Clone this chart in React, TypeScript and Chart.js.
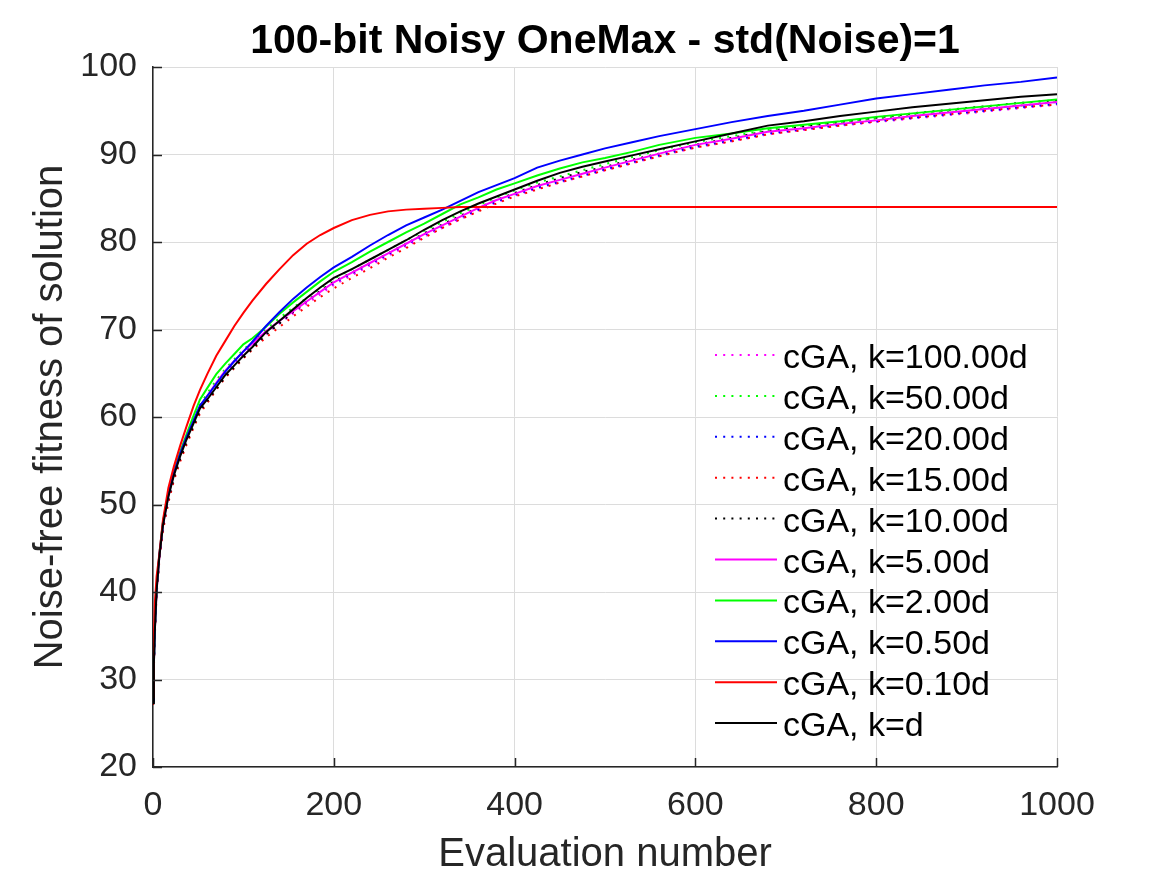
import React, { useEffect, useRef } from "react";
import { Chart, registerables } from "chart.js";

Chart.register(...registerables);

// ---- Data ----
const EVALS = [
  0, 1, 2, 4, 7, 11, 17, 23, 30, 37, 45, 52, 60, 70, 80, 90, 100, 110, 125, 140, 155, 170, 185, 200,
  220, 240, 260, 280, 300, 320, 340, 360, 380, 400, 425, 450, 475, 500, 530, 560, 600, 640, 680, 720,
  760, 800, 840, 880, 920, 960, 1000,
];

const K_100D = [
  27.2, 31.6, 35.3, 40.0, 43.8, 47.4, 50.7, 53.2, 55.4, 57.3, 59.2, 60.9, 62.1, 63.6, 65.0, 66.1, 67.2,
  68.1, 69.5, 70.7, 71.8, 72.9, 74.0, 75.1, 76.2, 77.3, 78.4, 79.5, 80.6, 81.6, 82.6, 83.6, 84.5, 85.3,
  86.1, 86.8, 87.5, 88.2, 89.0, 89.8, 90.8, 91.5, 92.3, 92.8, 93.3, 93.7, 94.1, 94.5, 94.9, 95.3, 95.7,
];
const K_50D = [
  27.4, 31.9, 35.6, 40.3, 44.1, 47.8, 51.1, 53.6, 55.8, 57.7, 59.7, 61.4, 62.7, 64.2, 65.5, 66.6, 67.7,
  68.6, 70.0, 71.3, 72.5, 73.6, 74.7, 75.8, 76.9, 78.0, 79.1, 80.2, 81.3, 82.3, 83.3, 84.2, 85.1, 85.9,
  86.8, 87.5, 88.2, 88.9, 89.7, 90.5, 91.4, 92.1, 92.8, 93.3, 93.7, 94.1, 94.5, 94.9, 95.3, 95.6, 96.0,
];
const K_20D = [
  27.3, 31.7, 35.4, 40.1, 43.9, 47.6, 50.9, 53.4, 55.6, 57.5, 59.4, 61.1, 62.3, 63.8, 65.2, 66.3, 67.4,
  68.3, 69.7, 70.9, 72.1, 73.2, 74.3, 75.3, 76.4, 77.5, 78.6, 79.7, 80.8, 81.8, 82.8, 83.7, 84.6, 85.4,
  86.2, 86.9, 87.6, 88.3, 89.1, 89.9, 90.9, 91.6, 92.4, 92.9, 93.4, 93.8, 94.2, 94.6, 95.0, 95.4, 95.8,
];
const K_15D = [
  27.1, 31.4, 35.0, 39.7, 43.5, 47.0, 50.2, 52.7, 54.9, 56.8, 58.8, 60.4, 61.6, 63.1, 64.5, 65.6, 66.7,
  67.7, 69.1, 70.3, 71.5, 72.6, 73.7, 74.7, 75.9, 77.0, 78.2, 79.3, 80.5, 81.6, 82.6, 83.5, 84.4, 85.2,
  86.0, 86.8, 87.5, 88.2, 89.0, 89.8, 90.8, 91.5, 92.3, 92.8, 93.3, 93.8, 94.2, 94.6, 95.0, 95.4, 95.7,
];
const K_10D = [
  27.2, 31.6, 35.3, 40.0, 43.8, 47.4, 50.6, 53.0, 55.2, 57.1, 59.0, 60.7, 61.8, 63.2, 64.6, 65.7, 66.8,
  67.8, 69.4, 70.7, 72.0, 73.2, 74.4, 75.5, 76.5, 77.6, 78.7, 79.8, 81.0, 82.0, 83.0, 83.9, 84.8, 85.6,
  86.5, 87.3, 88.0, 88.6, 89.4, 90.1, 91.1, 91.9, 92.7, 93.2, 93.7, 94.2, 94.7, 95.1, 95.5, 95.9, 96.2,
];
const K_5D = [
  27.4, 31.9, 35.5, 40.2, 44.0, 47.7, 51.0, 53.5, 55.7, 57.6, 59.5, 61.2, 62.4, 63.9, 65.3, 66.4, 67.5,
  68.4, 69.8, 71.0, 72.1, 73.2, 74.3, 75.4, 76.5, 77.6, 78.7, 79.8, 80.9, 81.9, 82.9, 83.9, 84.8, 85.5,
  86.4, 87.1, 87.8, 88.5, 89.3, 90.1, 91.1, 91.8, 92.6, 93.0, 93.5, 93.9, 94.4, 94.8, 95.2, 95.6, 96.0,
];
const K_2D = [
  27.5, 32.0, 35.7, 40.5, 44.3, 48.0, 51.3, 53.8, 56.0, 58.0, 60.2, 62.0, 63.3, 64.9, 66.1, 67.2, 68.3,
  69.0, 70.3, 71.8, 73.1, 74.3, 75.5, 76.6, 77.7, 78.9, 80.0, 81.1, 82.1, 83.2, 84.3, 85.1, 86.0, 86.7,
  87.6, 88.4, 89.1, 89.6, 90.3, 91.1, 91.9, 92.4, 93.0, 93.4, 93.8, 94.3, 94.7, 95.1, 95.5, 95.9, 96.3,
];
const K_050D = [
  27.6, 32.2, 35.8, 40.5, 44.3, 47.9, 51.2, 53.6, 55.8, 57.7, 59.6, 61.3, 62.4, 63.8, 65.2, 66.4, 67.5,
  68.6, 70.4, 72.0, 73.5, 74.8, 76.0, 77.1, 78.3, 79.6, 80.8, 81.9, 82.8, 83.7, 84.7, 85.7, 86.5, 87.3,
  88.5, 89.3, 90.0, 90.7, 91.4, 92.1, 92.9, 93.7, 94.4, 95.0, 95.7, 96.4, 96.9, 97.4, 97.9, 98.3, 98.8,
];
const K_010D = [
  28.0, 35.0, 38.7, 41.8, 44.3, 48.2, 51.9, 54.3, 56.7, 58.9, 61.3, 63.1, 64.9, 67.0, 68.7, 70.4, 71.9,
  73.3, 75.2, 76.9, 78.5, 79.8, 80.8, 81.6, 82.5, 83.1, 83.5, 83.7, 83.8, 83.9, 84.0, 84.0, 84.0, 84.0,
  84.0, 84.0, 84.0, 84.0, 84.0, 84.0, 84.0, 84.0, 84.0, 84.0, 84.0, 84.0, 84.0, 84.0, 84.0, 84.0, 84.0,
];
const K_D = [
  27.3, 31.8, 35.5, 40.2, 44.0, 47.6, 50.9, 53.3, 55.5, 57.4, 59.3, 61.0, 62.0, 63.4, 64.8, 65.9, 67.0,
  68.0, 69.7, 71.0, 72.3, 73.6, 74.8, 75.9, 76.9, 78.0, 79.1, 80.2, 81.4, 82.5, 83.5, 84.4, 85.2, 86.0,
  87.0, 87.9, 88.6, 89.2, 89.9, 90.6, 91.5, 92.4, 93.3, 93.8, 94.4, 94.9, 95.4, 95.8, 96.2, 96.6, 96.9,
];

const SERIES_LABELS = [
  "cGA, k=100.00d",
  "cGA, k=50.00d",
  "cGA, k=20.00d",
  "cGA, k=15.00d",
  "cGA, k=10.00d",
  "cGA, k=5.00d",
  "cGA, k=2.00d",
  "cGA, k=0.50d",
  "cGA, k=0.10d",
  "cGA, k=d",
];
const SERIES_VALUES = [K_100D, K_50D, K_20D, K_15D, K_10D, K_5D, K_2D, K_050D, K_010D, K_D];
const SERIES_COLORS = [
  "#ff00ff", "#00ff00", "#0000ff", "#ff0000", "#000000",
  "#ff00ff", "#00ff00", "#0000ff", "#ff0000", "#000000",
];
const SERIES_DOTTED = [true, true, true, true, true, false, false, false, false, false];

const X_TICKS = [0, 200, 400, 600, 800, 1000];
const Y_TICKS = [20, 30, 40, 50, 60, 70, 80, 90, 100];

const TITLE = "100-bit Noisy OneMax - std(Noise)=1";
const X_LABEL = "Evaluation number";
const Y_LABEL = "Noise-free fitness of solution";

const FONT = "'Liberation Sans', Arial, Helvetica, sans-serif";
const AXIS_COLOR = "#262626";
const DOT_DASH = [2, 6.2];

const decorPlugin = {
  id: "matlabDecor",
  afterDraw(chart: any) {
    const ctx = chart.ctx as CanvasRenderingContext2D;
    const area = chart.chartArea;
    const xs = chart.scales.x;
    const ys = chart.scales.y;
    ctx.save();

    // inward tick marks
    ctx.strokeStyle = AXIS_COLOR;
    ctx.lineWidth = 1.5;
    ctx.setLineDash([]);
    ctx.beginPath();
    X_TICKS.forEach((v) => {
      const px = Math.round(xs.getPixelForValue(v)) + 0.5;
      ctx.moveTo(px, area.bottom);
      ctx.lineTo(px, area.bottom - 9);
    });
    Y_TICKS.forEach((v) => {
      const py = Math.round(ys.getPixelForValue(v)) + 0.5;
      ctx.moveTo(area.left, py);
      ctx.lineTo(area.left + 9, py);
    });
    ctx.stroke();

    // title
    const cx = (area.left + area.right) / 2;
    ctx.fillStyle = "#000";
    ctx.font = `bold 41px ${FONT}`;
    ctx.textAlign = "center";
    ctx.textBaseline = "alphabetic";
    ctx.fillText(TITLE, cx, 53);

    // axis titles
    ctx.fillStyle = AXIS_COLOR;
    ctx.font = `40px ${FONT}`;
    ctx.fillText(X_LABEL, cx, 866);
    ctx.save();
    ctx.translate(62, (area.top + area.bottom) / 2);
    ctx.rotate(-Math.PI / 2);
    ctx.fillText(Y_LABEL, 0, 0);
    ctx.restore();

    // legend
    const rowTop = 355;
    const rowStep = 40.9;
    ctx.font = `34px ${FONT}`;
    ctx.textAlign = "left";
    chart.data.datasets.forEach((ds: any, i: number) => {
      const y = rowTop + i * rowStep;
      ctx.strokeStyle = ds.borderColor;
      ctx.lineWidth = 2;
      ctx.setLineDash(ds.borderDash || []);
      ctx.beginPath();
      ctx.moveTo(715, y);
      ctx.lineTo(777, y);
      ctx.stroke();
      ctx.setLineDash([]);
      ctx.fillStyle = "#000";
      ctx.fillText(ds.label, 783, y + 13);
    });

    ctx.restore();
  },
};

export default function App() {
  const ref = useRef<HTMLCanvasElement | null>(null);

  useEffect(() => {
    document.body.style.margin = "0";
    if (!ref.current) return;
    const n = SERIES_LABELS.length;
    const chart = new Chart(ref.current, {
      type: "line",
      data: {
        datasets: SERIES_LABELS.map((label, i) => ({
          label,
          data: EVALS.map((x, j) => ({ x, y: SERIES_VALUES[i][j] })),
          borderColor: SERIES_COLORS[i],
          backgroundColor: SERIES_COLORS[i],
          borderWidth: 2,
          borderDash: SERIES_DOTTED[i] ? DOT_DASH : [],
          pointRadius: 0,
          tension: 0,
          fill: false,
          order: n - 1 - i,
        })),
      },
      options: {
        responsive: false,
        animation: false,
        layout: { padding: { top: 67, right: 110, left: 0, bottom: 0 } },
        plugins: {
          legend: { display: false },
          title: { display: false },
          tooltip: { enabled: false },
        },
        scales: {
          x: {
            type: "linear",
            min: 0,
            max: 1000,
            afterFit: (s: any) => {
              s.height = 108;
            },
            afterBuildTicks: (s: any) => {
              s.ticks = X_TICKS.map((v) => ({ value: v }));
            },
            ticks: {
              font: { family: FONT, size: 34 },
              color: AXIS_COLOR,
              padding: 18,
              maxRotation: 0,
              autoSkip: false,
              callback: (v: any) => String(v),
            },
            grid: { color: "#dcdcdc", lineWidth: 1, drawTicks: false },
            border: { display: true, color: AXIS_COLOR, width: 1.5 },
          },
          y: {
            type: "linear",
            min: 20,
            max: 100,
            afterFit: (s: any) => {
              s.width = 153;
            },
            afterBuildTicks: (s: any) => {
              s.ticks = Y_TICKS.map((v) => ({ value: v }));
            },
            ticks: {
              font: { family: FONT, size: 34 },
              color: AXIS_COLOR,
              padding: 16,
              autoSkip: false,
              callback: (v: any) => String(v),
            },
            grid: { color: "#dcdcdc", lineWidth: 1, drawTicks: false },
            border: { display: true, color: AXIS_COLOR, width: 1.5 },
          },
        },
      },
      plugins: [decorPlugin],
    });
    return () => chart.destroy();
  }, []);

  return (
    <div style={{ width: 1167, height: 875, background: "#fff" }}>
      <canvas ref={ref} width={1167} height={875} style={{ display: "block" }} />
    </div>
  );
}
